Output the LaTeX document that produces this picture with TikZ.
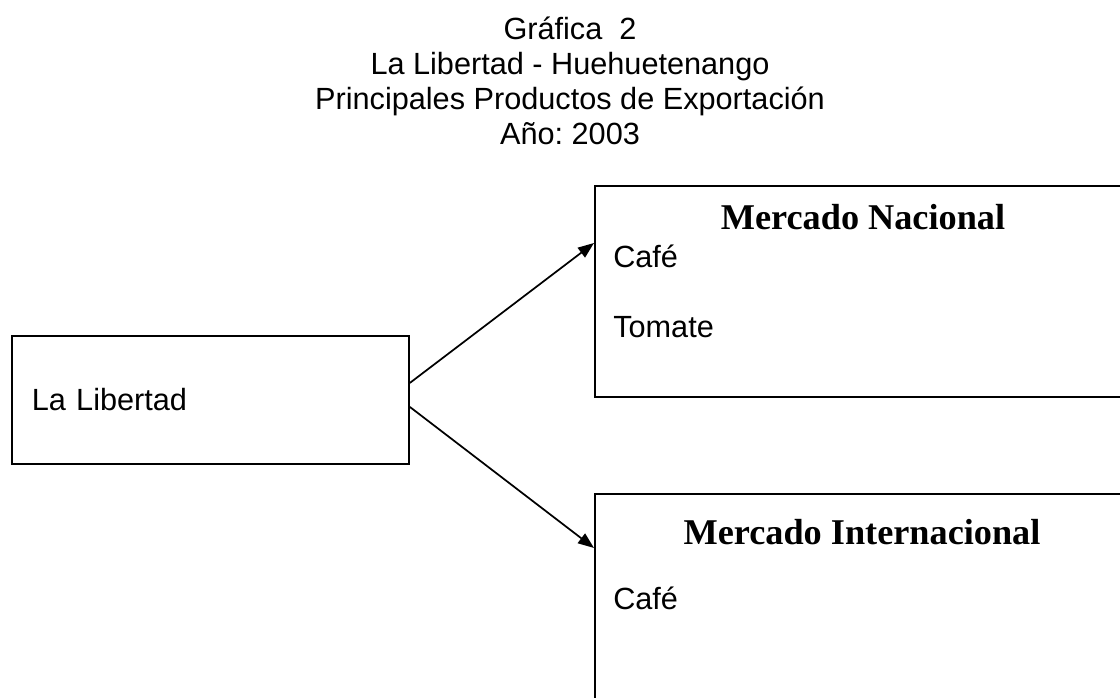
\documentclass[tikz,border=0pt]{standalone}
\usepackage{fontspec}
\setmainfont{Liberation Sans}
\newfontfamily\encab{Liberation Serif}
\frenchspacing
\usetikzlibrary{arrows.meta}
\tikzstyle{arrow} = [line width=1.3pt,->,>={Triangle[length=12pt,width=9pt]}]
\tikzstyle{caja} = [draw=black, line width=1.4pt, rectangle, inner sep=0pt]
\tikzstyle{texto} = [font=\fontsize{23}{26}\selectfont, inner sep=0pt]
\tikzstyle{encabezado} = [font=\encab\bfseries\fontsize{27.2}{32}\selectfont, inner sep=0pt]

\begin{document}
\begin{tikzpicture}[x=0.75pt, y=-0.75pt]
    \useasboundingbox (0,0) rectangle (1120,698);
    \clip (0,0) rectangle (1120,698);

    % titulo
    \foreach \linea [count=\i] in {Gráfica~~2, La Libertad - Huehuetenango, Principales Productos de Exportación, Año: 2003}
        \node[texto, anchor=base] (titulo\i) at (570, 5+35*\i) {\linea};

    % cajas
    \node[caja, anchor=north west, minimum width=297.75pt, minimum height=96pt,
          text width=267.75pt, align=left, inner xsep=15pt, texto] (lib) at (11,335) {La Libertad};
    \node[caja, anchor=north west, minimum width=420pt, minimum height=158.25pt] (nacional) at (594,185) {};
    \node[caja, anchor=north west, minimum width=420pt, minimum height=180pt] (internacional) at (594,493) {};

    \node[encabezado, anchor=base] (nac) at (863,230) {Mercado Nacional};
    \node[texto, anchor=base west] (cafe1) at (613,268) {Café};
    \node[texto, anchor=base west] (tomate) at (613,338) {Tomate};

    \node[encabezado, anchor=base] (inter) at (862,544) {Mercado Internacional};
    \node[texto, anchor=base west] (cafe2) at (613,609) {Café};

    \draw[arrow] ([yshift=12.75pt]lib.east) -- ([yshift=-43.5pt]nacional.north west);
    \draw[arrow] ([yshift=-5.25pt]lib.east) -- ([yshift=-41.25pt]internacional.north west);
\end{tikzpicture}
\end{document}
